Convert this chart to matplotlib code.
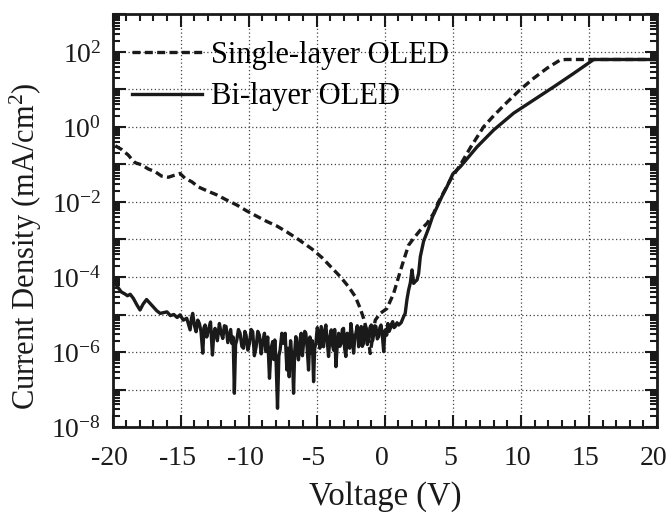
import numpy as np
import matplotlib
matplotlib.use('Agg')
import matplotlib.pyplot as plt
import matplotlib.transforms as mtransforms
from matplotlib.ticker import MultipleLocator, LogLocator, FuncFormatter, NullFormatter

plt.rcParams['font.family'] = 'Liberation Serif'
plt.rcParams['mathtext.fontset'] = 'custom'
plt.rcParams['mathtext.rm'] = 'Liberation Serif'
plt.rcParams['mathtext.it'] = 'Liberation Serif:italic'

# Single-layer OLED (dashed): voltage (V) and log10 of current density (mA/cm^2)
single_v = [-19.8, -19.33, -18.84, -18.59, -18.35, -17.86, -17.37, -16.88, -16.39, -15.90,
            -15.40, -15.04, -14.67, -14.18, -13.69, -13.07, -12.34, -11.60, -10.87, -10.13,
            -9.40, -8.66, -7.93, -7.19, -6.46, -5.36, -4.62, -3.88, -3.27, -2.66,
            -2.17, -1.80, -1.56, -1.36, -1.19, -1.07, -0.70, -0.33, 0.16, 0.65,
            1.02, 1.39, 1.75, 2.12, 2.61, 3.10, 3.59, 3.96, 4.82, 5.55,
            6.29, 7.27, 8.00, 8.98, 9.96, 10.94, 11.93, 12.90, 13.30, 15.60, 20.0]
single_logj = [-0.50, -0.60, -0.75, -0.86, -0.95, -1.01, -1.12, -1.19, -1.31, -1.34,
               -1.28, -1.24, -1.37, -1.46, -1.60, -1.70, -1.81, -1.95, -2.08, -2.24,
               -2.38, -2.52, -2.64, -2.80, -2.97, -3.25, -3.48, -3.76, -3.99, -4.26,
               -4.52, -4.84, -5.10, -5.37, -5.68, -6.04, -5.15, -4.97, -4.84, -4.44,
               -3.99, -3.55, -3.15, -2.97, -2.75, -2.57, -2.30, -1.99, -1.41, -1.01,
               -0.55, 0.01, 0.30, 0.66, 1.00, 1.30, 1.57, 1.79, 1.80, 1.80, 1.80]

# Bi-layer OLED (solid)
bi_v = [-20.0, -19.85, -19.6, -19.35, -19.1, -18.9, -18.7, -18.47, -18.2, -17.98,
        -17.75, -17.5, -17.25, -17.0, -16.75, -16.5, -16.25, -16.0, -15.75, -15.5,
        -15.25, -15.04, -14.8, -14.55, -14.30, -14.20, -14.11, -13.98, -13.86, -13.74,
        -13.62, -13.50, -13.37, -13.28, -13.20, -13.08, -12.96, -12.80, -12.66, -12.56,
        -12.47, -12.30, -12.15, -12.02, -11.90, -11.78, -11.66, -11.53, -11.41, -11.32,
        -11.24, -11.14, -11.05, -10.96, -10.87, -10.75, -10.63, -10.50, -10.38, -10.28,
        -10.19, -10.06, -9.94, -9.82, -9.70, -9.58, -9.45, -9.33, -9.21, -9.08,
        -8.96, -8.84, -8.72, -8.60, -8.47, -8.35, -8.23, -8.15, -8.08, -7.98,
        -7.88, -7.78, -7.69, -7.56, -7.44, -7.32, -7.19, -7.10, -7.02, -6.92,
        -6.83, -6.76, -6.70, -6.62, -6.53, -6.44, -6.34, -6.24, -6.14, -6.05,
        -5.97, -5.88, -5.80, -5.70, -5.60, -5.50, -5.40, -5.32, -5.23, -5.15,
        -5.06, -4.96, -4.87, -4.77, -4.67, -4.58, -4.50, -4.42, -4.33, -4.23,
        -4.13, -4.03, -3.93, -3.85, -3.76, -3.68, -3.59, -3.49, -3.39, -3.30,
        -3.20, -3.12, -3.03, -2.95, -2.86, -2.76, -2.66, -2.58, -2.49, -2.39,
        -2.29, -2.20, -2.12, -2.02, -1.92, -1.83, -1.73, -1.65, -1.56, -1.46,
        -1.36, -1.28, -1.19, -1.09, -0.99, -0.90, -0.82, -0.74, -0.65, -0.55,
        -0.45, -0.36, -0.28, -0.18, -0.08, 0.00, 0.04, 0.14, 0.23, 0.32,
        0.41, 0.50, 0.58, 0.68, 0.77, 0.90, 1.02, 1.20, 1.38, 1.50,
        1.63, 1.75, 1.88, 2.00, 2.12, 2.24, 2.37, 2.49, 2.61, 2.85,
        3.22, 3.50, 3.84, 4.20, 4.57, 5.00, 5.55, 6.78, 8.00, 9.47,
        10.94, 12.41, 13.88, 15.35, 20.0]
bi_logj = [-3.95, -4.15, -4.28, -4.40, -4.45, -4.50, -4.46, -4.57, -4.75, -4.88,
           -4.72, -4.60, -4.70, -4.80, -4.90, -4.97, -4.95, -4.93, -5.03, -5.00,
           -5.08, -5.01, -5.15, -5.10, -5.41, -5.10, -4.97, -5.30, -5.46, -5.15,
           -5.24, -5.45, -6.03, -5.35, -5.28, -5.60, -5.41, -5.20, -6.08, -5.50,
           -5.37, -5.70, -5.24, -5.50, -5.64, -5.30, -5.32, -5.75, -5.55, -5.40,
           -5.77, -5.60, -7.10, -5.80, -5.68, -5.40, -5.50, -5.85, -5.90, -5.45,
           -5.55, -5.95, -5.77, -5.40, -5.46, -6.10, -5.86, -5.45, -5.55, -6.05,
           -5.72, -5.50, -5.99, -5.60, -6.70, -5.90, -5.72, -6.20, -5.68, -6.30,
           -7.50, -6.10, -5.95, -5.50, -5.77, -5.50, -6.48, -5.90, -6.66, -5.70,
           -6.12, -6.40, -7.10, -6.00, -5.59, -5.95, -6.21, -5.70, -5.50, -6.10,
           -5.77, -5.45, -5.50, -5.90, -6.48, -5.60, -6.03, -5.70, -6.79, -5.90,
           -5.77, -5.35, -5.50, -5.90, -5.32, -5.60, -5.86, -5.45, -5.28, -5.70,
           -6.12, -5.60, -5.41, -5.80, -5.95, -5.40, -6.39, -5.80, -5.50, -5.85,
           -5.77, -5.40, -5.37, -5.90, -6.12, -5.50, -5.59, -5.90, -5.24, -5.55,
           -6.03, -5.60, -5.50, -5.30, -5.86, -5.45, -5.32, -5.85, -5.77, -5.30,
           -5.41, -5.80, -5.68, -5.35, -5.28, -5.70, -5.55, -5.30, -5.32, -5.65,
           -5.59, -5.35, -5.28, -5.55, -5.99, -5.50, -5.41, -5.55, -5.24, -5.45,
           -5.37, -5.25, -5.19, -5.35, -5.32, -5.22, -5.28, -5.22, -5.06, -4.97,
           -4.60, -4.35, -4.15, -3.81, -4.17, -4.12, -4.08, -3.90, -3.46, -3.05,
           -2.70, -2.40, -2.13, -1.85, -1.59, -1.25, -1.06, -0.53, -0.08, 0.37,
           0.72, 1.07, 1.43, 1.80, 1.80]

x_ticks = [-20, -15, -10, -5, 0, 5, 10, 15, 20]

fig = plt.figure(figsize=(6.69, 5.12), dpi=100)
ax = fig.add_axes([0.1682, 0.166, 0.8139, 0.8057])

ink = '#1a1a1a'
ax.plot(single_v, 10 ** np.array(single_logj), color=ink, lw=2.4,
        ls=(0, (2.4, 1.3)), label='Single-layer OLED', zorder=3)
ax.plot(bi_v, 10 ** np.array(bi_logj), color=ink, lw=2.4,
        label='Bi-layer OLED', zorder=4)

ax.set_yscale('log')
ax.set_xlim(-20, 20)
ax.set_ylim(1e-8, 1e3)

ax.set_xticks(x_ticks)
ax.set_xticklabels([str(t) for t in x_ticks])
ax.xaxis.set_minor_locator(MultipleLocator(1))
ax.yaxis.set_major_locator(LogLocator(base=10, numticks=20))
ax.yaxis.set_minor_locator(LogLocator(base=10, subs=np.arange(2, 10), numticks=20))
ax.yaxis.set_minor_formatter(NullFormatter())


def even_decades(val, pos):
    e = int(round(np.log10(val)))
    return r'$10^{%d}$' % e if e % 2 == 0 else ''


ax.yaxis.set_major_formatter(FuncFormatter(even_decades))

ax.grid(True, which='major', ls=(0, (1, 2)), lw=0.9, color='#444444')
ax.tick_params(which='both', direction='in', top=True, right=True, width=1.5,
               colors=ink, labelsize=20)
ax.tick_params(which='major', length=9)
ax.tick_params(which='minor', length=5)
ax.tick_params(axis='x', pad=14)
ax.tick_params(axis='y', pad=8)
for s in ax.spines.values():
    s.set_linewidth(2)
    s.set_color(ink)

# nudge the x tick labels a few pixels left, as in the original
shift = mtransforms.ScaledTranslation(-0.03, 0, fig.dpi_scale_trans)
for lab in ax.get_xticklabels():
    lab.set_transform(lab.get_transform() + shift)

ax.set_xlabel('Voltage (V)', fontsize=23.5, color=ink)
ax.set_ylabel('Current Density (mA/cm$^2$)', fontsize=22, color=ink)
ax.xaxis.set_label_coords(0.5, -0.132)
ax.yaxis.set_label_coords(-0.126, 0.439)

ax.legend(loc='upper left', bbox_to_anchor=(132 / 669, 1 - 41 / 512),
          bbox_transform=fig.transFigure, frameon=False, fontsize=22,
          handlelength=2.3, handletextpad=0.3, labelspacing=0.4,
          borderpad=0, borderaxespad=0)

fig.savefig('out.png', dpi=100)
